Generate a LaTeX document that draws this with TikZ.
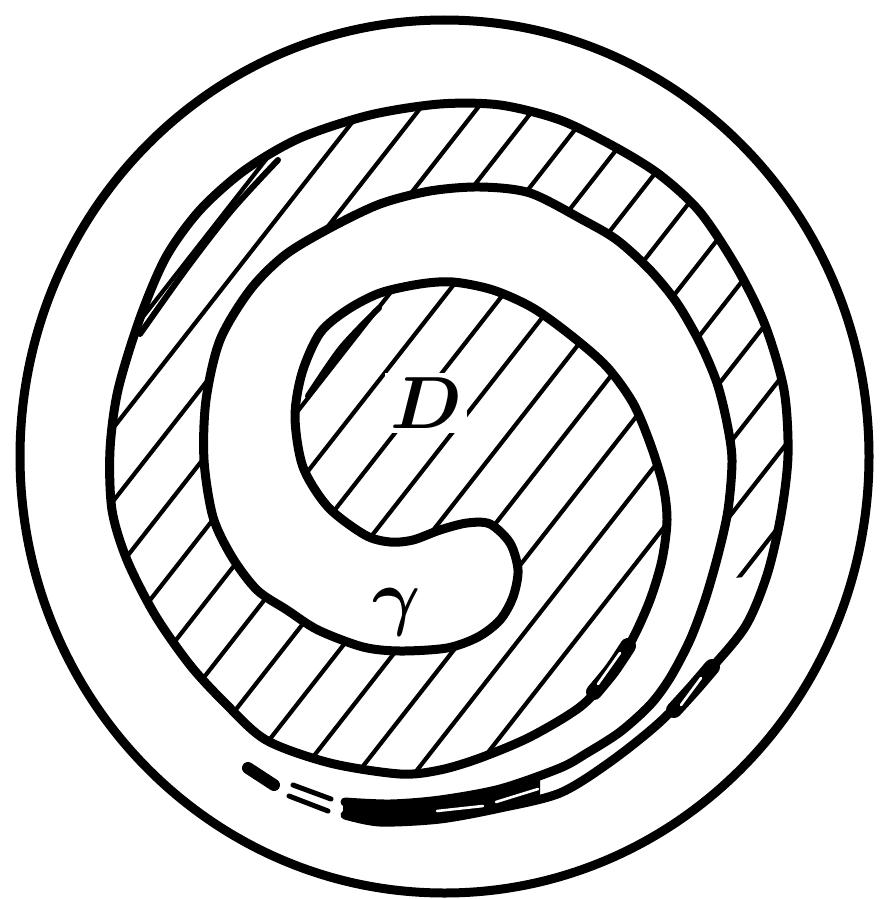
\documentclass[tikz,border=0pt]{standalone}
\usepackage{fix-cm}
\begin{document}
\begin{tikzpicture}[x=1pt,y=-1pt,
  edge/.style={line width=9pt, line cap=round, line join=round},
  hatchline/.style={line width=4.2pt},
  thinedge/.style={line width=6pt, line cap=round},
  slit/.style={white, line width=2.6pt, line cap=round},
  lbl/.style={inner sep=5pt, font=\fontsize{74}{80}\selectfont\boldmath}
]
\useasboundingbox (0,0) rectangle (879,899);
\fill[white] (0,0) rectangle (879,899);

% hatching inside the outer spiral turn
\begin{scope}
\clip plot[smooth] coordinates {(345,814) (380,821) (440,820) (500,810) (560,793) (610,762) (660,722) (705,675) (745,627) (767,575) (781,515) (788,455) (784,390) (765,325) (737,268) (700,212) (660,175) (615,147) (560,120) (500,105) (440,104) (370,115) (300,138) (245,170) (200,210) (166,257) (140,318) (118,390) (110,450) (112,510) (127,560) (155,615) (190,665) (225,703) (266,740) (330,763) (400,774)} -- cycle;
\foreach \k in {-10,...,15} {
  \pgfmathsetmacro\c{532.7+45*\k}
  \draw[hatchline] ({\c*0.788-800*0.616},{\c*0.616+800*0.788}) -- ({\c*0.788+800*0.616},{\c*0.616-800*0.788});
}
\end{scope}

% white spiral strip gamma
\fill[white] plot[smooth] coordinates {(400,774) (440,770) (480,758) (530,737) (580,707) (610,675) (632,640) (650,600) (662,560) (667,520) (663,485) (650,443) (633,403) (607,367) (573,337) (533,308) (493,290) (453,282) (420,284) (380,293) (347,310) (320,333) (302,373) (295,417) (303,467) (328,507) (365,535) (390,542) (413,540) (440,530) (467,523) (490,524) (510,543) (518,570) (513,597) (500,620) (478,637) (447,648) (400,651) (363,647) (318,630) (287,610) (257,590) (232,557) (213,517) (204,460) (206,400) (220,340) (250,290) (285,255) (330,228) (380,204) (430,191) (480,187) (530,193) (583,220) (617,240) (650,270) (677,303) (700,343) (717,383) (727,423) (732,460) (728,510) (718,555) (705,600) (690,640) (670,678) (650,705) (620,732) (587,753) (560,768) (500,789) (440,800) (390,804) (345,802)} -- cycle;

% narrow unhatched strip at the lower right
\fill[white] plot[smooth] coordinates {(345,815) (380,822) (440,819) (500,808) (560,793) (610,762) (660,722) (705,675) (745,627) (767,575)} -- (712,580) -- plot[smooth] coordinates {(705,600) (690,640) (670,678) (650,705) (620,732) (587,753) (560,768) (500,789) (440,800) (390,804) (345,802)} -- cycle;

% labels
\node[lbl, fill=white] (Dlab) at (426,403) {$D$};
\node[lbl] (glab) at (397,612) {$\gamma$};

% merged band at the bottom
\fill (343,802) -- (390,804) -- (440,800) -- (500,789) -- (540,778) -- (540,800) -- (500,808) -- (440,819) -- (380,822) -- (343,815) -- cycle;

% the spiral boundary curve
\draw[edge] plot[smooth] coordinates {(345,815) (380,822) (440,819) (500,808) (560,793) (610,762) (660,722) (705,675) (745,627) (767,575) (781,515) (788,455) (784,390) (765,325) (737,268) (700,212) (660,175) (615,147) (560,120) (500,105) (440,104) (370,115) (300,138) (245,170) (200,210) (166,257) (140,318) (118,390) (110,450) (112,510) (127,560) (155,615) (190,665) (225,703) (266,740) (330,763) (400,774) (440,770) (480,758) (530,737) (580,707) (610,675) (632,640) (650,600) (662,560) (667,520) (663,485) (650,443) (633,403) (607,367) (573,337) (533,308) (493,290) (453,282) (420,284) (380,293) (347,310) (320,333) (302,373) (295,417) (303,467) (328,507) (365,535) (390,542) (413,540) (440,530) (467,523) (490,524) (510,543) (518,570) (513,597) (500,620) (478,637) (447,648) (400,651) (363,647) (318,630) (287,610) (257,590) (232,557) (213,517) (204,460) (206,400) (220,340) (250,290) (285,255) (330,228) (380,204) (430,191) (480,187) (530,193) (583,220) (617,240) (650,270) (677,303) (700,343) (717,383) (727,423) (732,460) (728,510) (718,555) (705,600) (690,640) (670,678) (650,705) (620,732) (587,753) (560,768) (500,789) (440,800) (390,804) (345,802)};

% outer circle
\draw[edge] (444.5,456.5) ellipse [x radius=424.5, y radius=436.5];

% doubled strokes
\draw[thinedge] plot[smooth] coordinates {(140,334) (187,268) (232,210) (278,160)};
\draw[thinedge] plot[smooth] coordinates {(308,396) (341,348) (379,308)};
\draw[line width=16pt, line cap=round] plot[smooth] coordinates {(628,646) (612,670) (594,692)};
\draw[slit] (620,653) -- (598,684);
\draw[line width=16pt, line cap=round] plot[smooth] coordinates {(712,667) (694,688) (674,710)};
\draw[slit] (701,678) -- (681,705);
\draw[slit] (437,811) -- (483,806);
\draw[slit] (496,802) -- (538,789);

% dashed continuation
\coordinate (b1) at (248,768);
\coordinate (b2) at (274,785);
\draw[line width=12pt, line cap=round] (b1) -- (b2);
\coordinate (d1) at (293,785);
\coordinate (d2) at (331,799);
\coordinate (d3) at (289,796);
\coordinate (d4) at (328,811);
\draw[line width=5pt, line cap=round] (d1) -- (d2);
\draw[line width=5pt, line cap=round] (d3) -- (d4);
\end{tikzpicture}
\end{document}
